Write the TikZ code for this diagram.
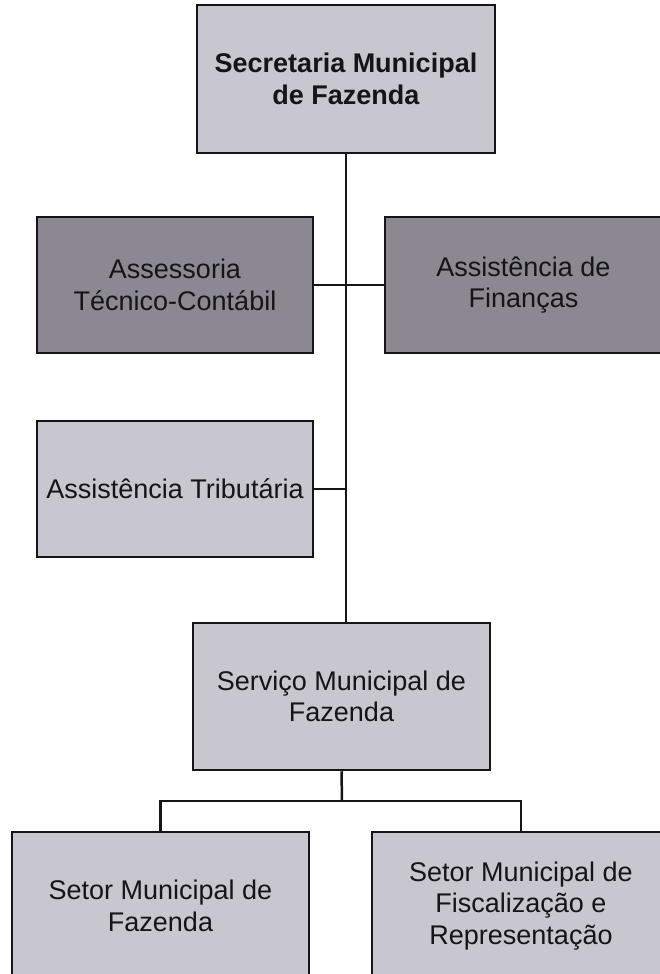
\documentclass[tikz,border=0pt]{standalone}
\usepackage{fontspec}
\setmainfont{Liberation Sans}
\definecolor{lightbox}{RGB}{200,198,206}
\definecolor{darkbox}{RGB}{140,136,146}
\definecolor{ink}{RGB}{20,20,26}
\begin{document}
\begin{tikzpicture}[x=1pt,y=-1pt,
  box/.style={draw=ink,line width=2.5pt,fill=lightbox,text=ink,align=center,inner sep=0pt,
    font=\fontsize{27}{31.5}\selectfont},
  darkboxst/.style={box,fill=darkbox},
  conn/.style={draw=ink,line width=2.5pt}]
\useasboundingbox (0,0) rectangle (660,974);
\clip (0,0) rectangle (660,974);
\node[box,minimum width=298pt,minimum height=148pt,font=\fontsize{27}{32}\selectfont\bfseries] (top) at (346,79) {Secretaria Municipal\\de Fazenda};
\node[darkboxst,minimum width=276pt,minimum height=136pt] (ast) at (175,285) {Assessoria\\Técnico-Contábil};
\node[darkboxst,minimum width=277pt,minimum height=136pt] (asf) at (523.5,285) {Assistência de\\Finanças};
\node[box,minimum width=276pt,minimum height=136pt] (trib) at (175,489) {Assistência Tributária};
\node[box,minimum width=297pt,minimum height=147pt] (serv) at (341.5,696.5) {Serviço Municipal de\\Fazenda};
\node[box,minimum width=297pt,minimum height=148pt] (set1) at (160.5,906) {Setor Municipal de\\Fazenda};
\node[box,minimum width=298pt,minimum height=148pt] (set2) at (521,906) {Setor Municipal de\\Fiscalização e\\Representação};
\coordinate (spineb) at (top.south |- serv.north);
\coordinate (br) at (342,801);
\draw[conn] (top.south) -- (spineb);
\draw[conn] (ast.east) -- (asf.west);
\draw[conn] (trib.east) -- (trib.east -| top.south);
\draw[conn] (serv.south) -- (br);
\draw[conn] (set1.north) -- (set1.north |- br) -- (set2.north |- br) -- (set2.north);
\end{tikzpicture}
\end{document}
